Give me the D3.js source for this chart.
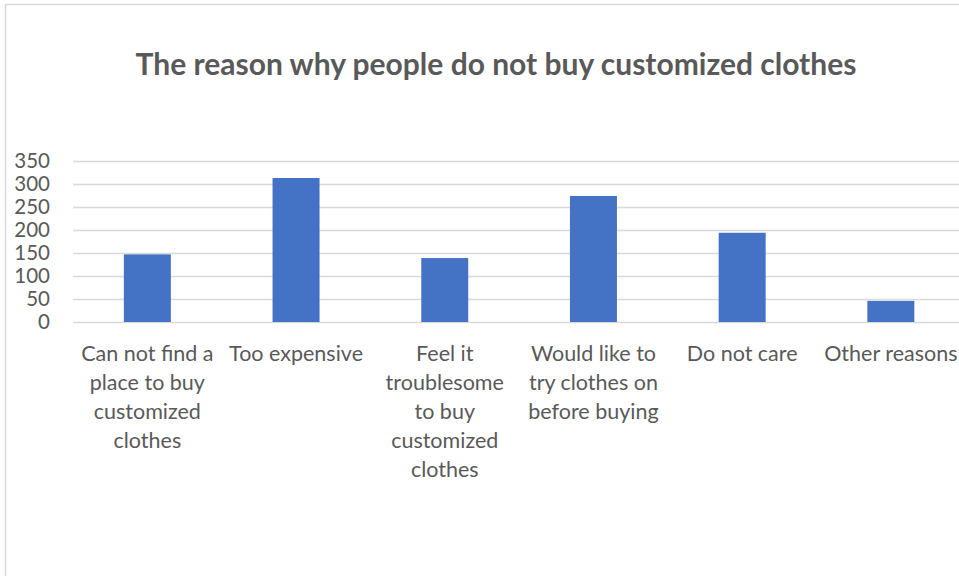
<!DOCTYPE html>
<html>
<head>
<meta charset="utf-8">
<script src="https://cdn.jsdelivr.net/npm/d3@7"></script>
<style>
  html, body { margin: 0; padding: 0; background: #fff; }
  svg { display: block; }
</style>
</head>
<body>
<svg id="chart" width="959" height="576"></svg>
<script>
const categories = [
  ["Can not find a", "place to buy", "customized", "clothes"],
  ["Too expensive"],
  ["Feel it", "troublesome", "to buy", "customized", "clothes"],
  ["Would like to", "try clothes on", "before buying"],
  ["Do not care"],
  ["Other reasons"]
];
const values = [147, 313, 139, 274, 194, 46];
const yTicks = [0, 50, 100, 150, 200, 250, 300, 350];
const title = "The reason why people do not buy customized clothes";

const svg = d3.select("#chart");
const font = "Lato, 'Open Sans', sans-serif";
const textColor = "#595959";

// chart border
svg.append("rect").attr("x", 5.5).attr("y", 4.5).attr("width", 1000).attr("height", 1000)
  .attr("fill", "none").attr("stroke", "#d9d9d9").attr("stroke-width", 1.5);

const left = 73, step = 148.7;
const x = d3.scaleBand().domain(d3.range(categories.length))
  .range([left, left + step * categories.length]).paddingInner(0.684).paddingOuter(0.342);
const y = d3.scaleLinear().domain([0, 350]).range([322, 161]);

// gridlines
svg.append("g").selectAll("line").data(yTicks).join("line")
  .attr("x1", left).attr("x2", 959)
  .attr("y1", d => Math.round(y(d)) + 0.5).attr("y2", d => Math.round(y(d)) + 0.5)
  .attr("stroke", "#d9d9d9").attr("stroke-width", 1.5);

// y axis labels
const yAxis = d3.axisLeft(y).tickValues(yTicks).tickSize(0).tickPadding(0);
const gy = svg.append("g").attr("transform", "translate(50,0)").call(yAxis);
gy.select(".domain").remove();
gy.selectAll("text").attr("fill", textColor).style("font-family", font).style("font-size", "20.5px");

// bars
svg.append("g").selectAll("rect").data(values).join("rect")
  .attr("x", (d, i) => x(i)).attr("width", x.bandwidth())
  .attr("y", d => y(d)).attr("height", d => y(0) - y(d))
  .attr("fill", "#4472C4");

// category labels
const gx = svg.append("g");
categories.forEach((lines, i) => {
  const cx = x(i) + x.bandwidth() / 2;
  const t = gx.append("text")
    .attr("text-anchor", "middle")
    .attr("fill", textColor)
    .style("font-family", font).style("font-size", "21.5px");
  lines.forEach((ln, j) => {
    t.append("tspan").attr("x", cx).attr("y", 361 + j * 29).text(ln);
  });
});

// title
svg.append("text").attr("x", 496).attr("y", 75).attr("text-anchor", "middle")
  .attr("fill", textColor).style("font-family", font).style("font-weight", "bold")
  .style("font-size", "30px").text(title);
</script>
</body>
</html>
